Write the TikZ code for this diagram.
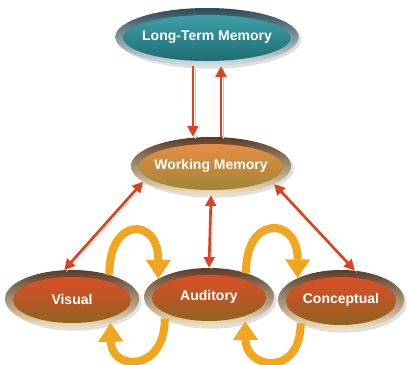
\documentclass[tikz,border=0pt]{standalone}
\usepackage{fontspec}
\setmainfont{Liberation Sans}
\usetikzlibrary{arrows.meta,calc,shapes.geometric,shadows}
\definecolor{rimdark}{HTML}{5A3C28}
\definecolor{rimlight}{HTML}{F2E2BE}
\definecolor{tealrim}{HTML}{2C4A58}
\definecolor{teallight}{HTML}{D4E0E4}
\definecolor{tealtop}{HTML}{44A8B0}
\definecolor{tealbot}{HTML}{1C666E}
\definecolor{redtop}{HTML}{E84A2A}
\definecolor{olivebot}{HTML}{86661E}
\definecolor{orangetop}{HTML}{F09048}
\definecolor{olivewm}{HTML}{9A8434}
\definecolor{linkred}{HTML}{D9431E}
\definecolor{swing}{HTML}{F2A51E}

\begin{document}
\begin{tikzpicture}[x=0.75pt,y=-0.75pt,>={Triangle[width=8pt,length=8pt]},
  blob/.style 2 args={ellipse,inner sep=0pt,text=white,
    font=\bfseries\fontsize{10.5}{12}\selectfont,
    top color=rimdark,bottom color=rimlight,
    drop shadow={opacity=0.25,shadow xshift=2pt,shadow yshift=-2pt},
    path picture={\shade[top color=#1,bottom color=#2] let \p1=(path picture bounding box.north east),
      \p2=(path picture bounding box.center) in
      ($(\p2)+(0,1)$) ellipse [x radius=\x1-\x2-6pt,y radius=\y1-\y2-4.5pt];}},
  link/.style={draw=linkred,line width=2pt,
    preaction={draw=black!20,arrows=-,transform canvas={xshift=1.5pt,yshift=-1.5pt}}},
  swing/.style={draw=swing,line width=6pt,
    -{Triangle[width=19pt,length=14pt,line width=0pt]},
    preaction={draw=black!55,arrows=-,shorten >=12pt,transform canvas={xshift=-1.5pt,yshift=-1pt}}}]
  \useasboundingbox (0,0) rectangle (408,365);
  \node[blob={tealtop}{tealbot},top color=tealrim,bottom color=teallight,
    minimum width=123pt,minimum height=43.5pt] (ltm) at (207,37) {Long-Term Memory};
  \node[blob={orangetop}{olivewm},minimum width=105pt,minimum height=43.5pt] (wm) at (211,166) {Working Memory};
  \node[blob={redtop}{olivebot},minimum width=100.5pt,minimum height=43.5pt] (vis) at (72,299) {Visual};
  \node[blob={redtop}{olivebot},minimum width=97.5pt,minimum height=43.5pt] (aud) at (209,297) {Auditory};
  \node[blob={redtop}{olivebot},minimum width=94.5pt,minimum height=45pt] (con) at (341,300) {Conceptual};
  \draw[link,->] (ltm.244) -- (ltm.244 |- wm.north);
  \draw[link,->] (wm.71) -- (wm.71 |- ltm.south);
  \draw[link,<->] (wm.193) -- (vis.105);
  \draw[link,<->] (wm.south) -- (aud.north);
  \draw[link,<->] (wm.-16) -- (con.65);
  \draw[swing] (vis.33) .. controls +(-1,-58) and +(0,-62) .. (aud.160);
  \draw[swing] (aud.206) .. controls +(0,54) and +(1,48) .. (vis.-32);
  \draw[swing] (aud.33) .. controls +(-1,-58) and +(0,-62) .. (con.153);
  \draw[swing] (con.210) .. controls +(0,54) and +(1,48) .. (aud.-34);
\end{tikzpicture}
\end{document}
